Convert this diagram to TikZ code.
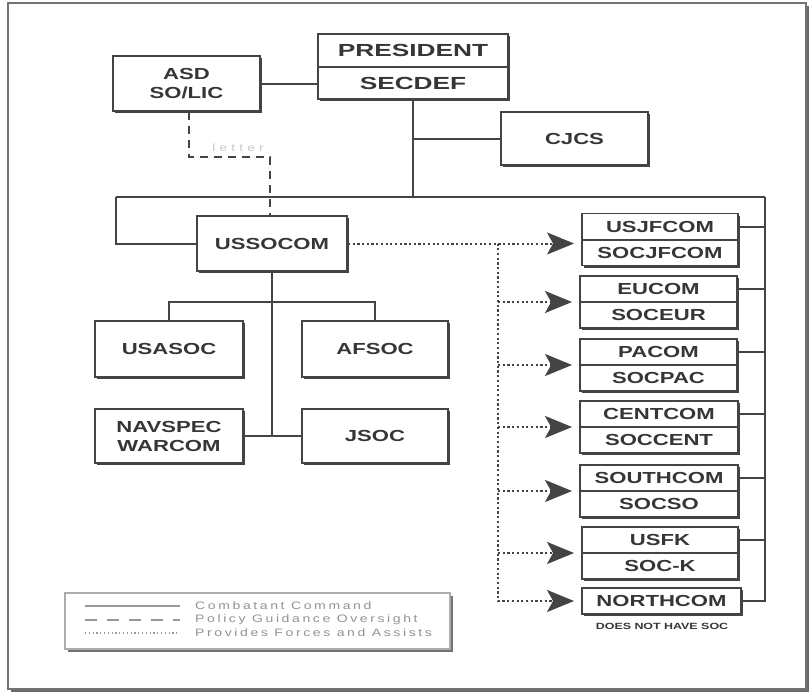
\documentclass[tikz,border=0pt]{standalone}
\usepackage{fontspec}
\setmainfont{Liberation Sans}
\newfontfamily\bx{Liberation Sans}[FakeStretch=1.38]
\newfontfamily\bxw{Liberation Sans}[FakeStretch=1.5]
\newfontfamily\lgf{Liberation Sans}[FakeStretch=1.3,LetterSpace=24]
\newfontfamily\ltf{Liberation Sans}[FakeStretch=1.3,LetterSpace=40]
\usetikzlibrary{arrows.meta,shadows}
\definecolor{ink}{HTML}{444444}
\definecolor{txt}{HTML}{363636}
\tikzset{
  box/.style={draw=ink, line width=1.9pt, fill=white, inner sep=0pt,
    drop shadow={shadow xshift=2pt, shadow yshift=-2pt, fill=ink, opacity=1}},
  lbl/.style={text=txt, font=\bx\bfseries\fontsize{16}{19}\selectfont, inner sep=0pt, align=center},
  bigl/.style={text=txt, font=\bxw\bfseries\fontsize{17.5}{20}\selectfont, inner sep=0pt},
  conn/.style={draw=ink, line width=2pt},
  pol/.style={draw=ink, line width=2pt, dash pattern=on 8pt off 6pt},
  frc/.style={draw=ink, line width=2pt, dash pattern=on 2.2pt off 2.5pt},
  tip/.style={-{Stealth[length=27pt,width=22pt,inset=6pt]}, shorten >=7pt},
  lgline/.style={draw=gray!80, line width=1.2pt},
  lgtxt/.style={text=gray!85, font=\lgf\fontsize{10.8}{12}\selectfont, inner sep=0pt, anchor=west},
}
\begin{document}
\begin{tikzpicture}[x=1pt,y=-1pt]
\useasboundingbox (0,0) rectangle (812,696);
% frame
\draw[line width=2.5pt, draw=ink!80] (11,690.5) -- (807.5,690.5) -- (807.5,6);
\draw[line width=1.2pt, draw=ink!75, fill=none] (8,3) rectangle (806,689);

% top level
\node[box, minimum width=190pt, minimum height=65pt] (pres) at (413,66.5) {};
\draw[conn] (pres.west) -- (pres.east);
\node[bigl] (presT) at (413,50.5) {PRESIDENT};
\node[bigl] (secT) at (413,83) {SECDEF};

\node[box, lbl, minimum width=147pt, minimum height=55pt] (asd) at (186.5,83.5) {ASD\\SO/LIC};
\node[box, lbl, minimum width=147pt, minimum height=53pt] (cjcs) at (574.5,138.5) {CJCS};
\node[box, lbl, minimum width=150pt, minimum height=55pt] (ussocom) at (272,243.5) {USSOCOM};

\node[box, lbl, minimum width=148pt, minimum height=56pt] (usasoc) at (169,349) {USASOC};
\node[box, lbl, minimum width=146pt, minimum height=56pt] (afsoc) at (375,349) {AFSOC};
\node[box, lbl, minimum width=148pt, minimum height=54pt] (navspec) at (169,436) {NAVSPEC\\WARCOM};
\node[box, lbl, minimum width=146pt, minimum height=54pt] (jsoc) at (375,436) {JSOC};

% split boxes on the right
\node[box, minimum width=156pt, minimum height=52pt] (usj) at (660,239.5) {};
\draw[conn] (usj.west) -- (usj.east);
\node[lbl] (usjT) at (660,226.5) {USJFCOM};
\node[lbl] (usjB) at (660,252.5) {SOCJFCOM};

\node[box, minimum width=157pt, minimum height=52pt] (eu) at (658.5,302) {};
\draw[conn] (eu.west) -- (eu.east);
\node[lbl] (euT) at (658.5,289) {EUCOM};
\node[lbl] (euB) at (658.5,315) {SOCEUR};

\node[box, minimum width=157pt, minimum height=52pt] (pac) at (658.5,365) {};
\draw[conn] (pac.west) -- (pac.east);
\node[lbl] (pacT) at (658.5,352) {PACOM};
\node[lbl] (pacB) at (658.5,378) {SOCPAC};

\node[box, minimum width=158pt, minimum height=52pt] (cent) at (659,427) {};
\draw[conn] (cent.west) -- (cent.east);
\node[lbl] (centT) at (659,414) {CENTCOM};
\node[lbl] (centB) at (659,440) {SOCCENT};

\node[box, minimum width=158pt, minimum height=52pt] (south) at (659,491) {};
\draw[conn] (south.west) -- (south.east);
\node[lbl] (southT) at (659,478) {SOUTHCOM};
\node[lbl] (southB) at (659,504) {SOCSO};

\node[box, minimum width=156pt, minimum height=52pt] (usfk) at (660,553) {};
\draw[conn] (usfk.west) -- (usfk.east);
\node[lbl] (usfkT) at (660,540) {USFK};
\node[lbl] (usfkB) at (660,566) {SOC-K};

\node[box, lbl, minimum width=159pt, minimum height=26pt] (north) at (661.5,601) {NORTHCOM};
\node[text=txt, font=\bx\bfseries\fontsize{9}{10}\selectfont, inner sep=0pt] (nosoc) at (662,626) {DOES NOT HAVE SOC};

% solid command lines
\coordinate (ltop) at (116,197);
\coordinate (rtop) at (765,197);
\draw[conn] (asd.east) -- (asd.east -| pres.west);
\draw[conn] (pres.south) -- (pres.south |- ltop);
\draw[conn] (cjcs.west) -- (cjcs.west -| pres.south);
\draw[conn] (ltop) -- (rtop);
\draw[conn] (ltop) -- (ltop |- ussocom.west) -- (ussocom.west);
\draw[conn] (rtop) -- (rtop |- north.east) -- (north.east);
\foreach \b/\t in {usj/usjT, eu/euT, pac/pacT, cent/centT, south/southT, usfk/usfkT}
  \draw[conn] (\t -| \b.east) -- (\t -| rtop);

\coordinate (sb) at (272,302);
\draw[conn] (ussocom.south) -- (ussocom.south |- navspec.east);
\draw[conn] (navspec.east) -- (jsoc.west);
\draw[conn] (usasoc.north) -- (usasoc.north |- sb) -- (afsoc.north |- sb) -- (afsoc.north);

% policy guidance (dashed)
\coordinate (d1) at (189,157);
\coordinate (d2) at (270,157);
\draw[pol] (d1 |- asd.south) -- (d1) -- (d2) -- (d2 |- ussocom.north);
\node[text=gray!45, font=\ltf\fontsize{10.5}{11}\selectfont, inner sep=0pt] (letter) at (238,148) {letter};

% provides forces (dotted)
\coordinate (dv) at (498,243.5);
\draw[frc, tip] (ussocom.east) -- (ussocom.east -| usj.west);
\draw[frc, tip] (dv) -- (dv |- north.west) -- (north.west);
\foreach \b in {eu, pac, cent, south, usfk}
  \draw[frc, tip] (\b.west -| dv) -- (\b.west);

% legend
\node[draw=gray!65, line width=1.1pt, fill=white, minimum width=385pt, minimum height=56pt, inner sep=0pt,
  drop shadow={shadow xshift=2.5pt, shadow yshift=-2.5pt, fill=gray!90!black, opacity=1}] (legend) at (257.5,621) {};
\coordinate (la1) at (85,606);  \coordinate (lb1) at (180,606);
\coordinate (la2) at (85,620);  \coordinate (lb2) at (180,620);
\coordinate (la3) at (85,633);  \coordinate (lb3) at (180,633);
\draw[lgline] (la1) -- (lb1);
\draw[lgline, dash pattern=on 12pt off 10pt] (la2) -- (lb2);
\draw[lgline, dash pattern=on 1.2pt off 2.6pt] (la3) -- (lb3);
\node[lgtxt] (lt1) at (195,606) {Combatant Command};
\node[lgtxt] (lt2) at (195,620) {Policy Guidance Oversight};
\node[lgtxt] (lt3) at (195,633) {Provides Forces and Assists};
\end{tikzpicture}
\end{document}
